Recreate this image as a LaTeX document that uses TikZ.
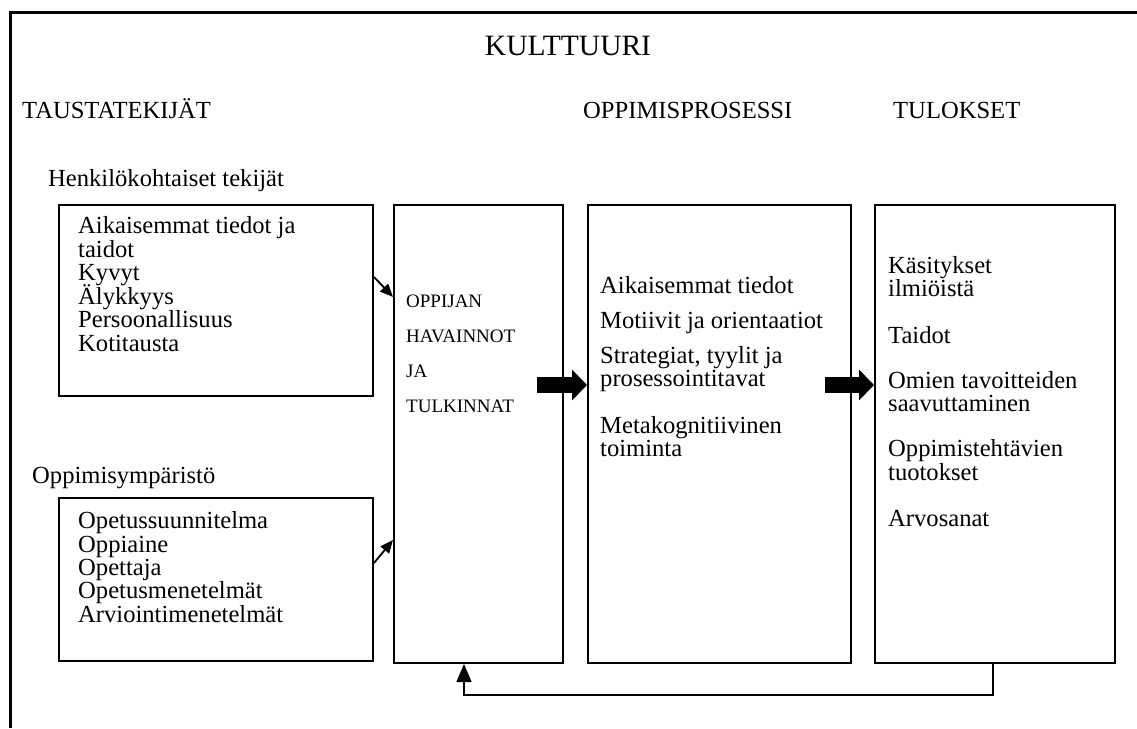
\documentclass[tikz,border=0pt]{standalone}
\usepackage{fontspec}
\setmainfont{Liberation Serif}
\usetikzlibrary{arrows.meta,calc}
\begin{document}
\begin{tikzpicture}[x=1pt,y=-1pt,
  box/.style={draw,line width=2pt,anchor=north west,inner sep=0,rectangle},
  txt/.style={anchor=base west,inner sep=0,font=\fontsize{24.6}{26}\selectfont},
  small/.style={anchor=base west,inner sep=0,font=\fontsize{19}{22}\selectfont},
  big/.style={anchor=base,inner sep=0,font=\fontsize{29.5}{32}\selectfont},
  thin/.style={line width=1.8pt,-{Triangle[length=13pt,width=11pt]}},
  blk/.style={line width=16pt,-{Triangle[length=15pt,width=30pt]}},
  fb/.style={line width=1.5pt,-{Triangle[length=18pt,width=15pt]}}]
\useasboundingbox (0,0) rectangle (1137,728);
\draw[line width=3pt] (10,728) -- (10,12) -- (1140,12);
% titles
\node[big] (kult) at (568,55) {KULTTUURI};
\node[txt] (taus) at (22,118) {TAUSTATEKIJÄT};
\node[txt] (oppi) at (583,118) {OPPIMISPROSESSI};
\node[txt] (tulo) at (893,118) {TULOKSET};
\node[txt] (henk) at (48,186) {Henkilökohtaiset tekijät};
\node[txt] (ymp) at (32,483) {Oppimisympäristö};
% boxes
\node[box,minimum width=314,minimum height=191] (b1) at (58,204) {};
\node[box,minimum width=314,minimum height=163] (b2) at (58,497) {};
\node[box,minimum width=169,minimum height=458] (b3) at (393,204) {};
\node[box,minimum width=263,minimum height=458] (b4) at (587,204) {};
\node[box,minimum width=240,minimum height=458] (b5) at (874,204) {};
% box1 text
\node[txt] (t11) at (78,233) {Aikaisemmat tiedot ja};
\node[txt] (t12) at (78,257) {taidot};
\node[txt] (t13) at (78,280) {Kyvyt};
\node[txt] (t14) at (78,304) {Älykkyys};
\node[txt] (t15) at (78,327) {Persoonallisuus};
\node[txt] (t16) at (78,351) {Kotitausta};
% box2 text
\node[txt] (t21) at (78,528) {Opetussuunnitelma};
\node[txt] (t22) at (78,552) {Oppiaine};
\node[txt] (t23) at (78,575) {Opettaja};
\node[txt] (t24) at (78,598) {Opetusmenetelmät};
\node[txt] (t25) at (78,622) {Arviointimenetelmät};
% box3 text
\node[small] (t31) at (406,307) {OPPIJAN};
\node[small] (t32) at (406,342) {HAVAINNOT};
\node[small] (t33) at (406,377) {JA};
\node[small] (t34) at (406,412) {TULKINNAT};
% box4 text
\node[txt] (t41) at (600,293) {Aikaisemmat tiedot};
\node[txt] (t42) at (600,328) {Motiivit ja orientaatiot};
\node[txt] (t43) at (600,363) {Strategiat, tyylit ja};
\node[txt] (t44) at (600,386) {prosessointitavat};
\node[txt] (t45) at (600,433) {Metakognitiivinen};
\node[txt] (t46) at (600,456) {toiminta};
% box5 text
\node[txt] (t51) at (888,273) {Käsitykset};
\node[txt] (t52) at (888,296) {ilmiöistä};
\node[txt] (t53) at (888,343) {Taidot};
\node[txt] (t54) at (888,388) {Omien tavoitteiden};
\node[txt] (t55) at (888,411) {saavuttaminen};
\node[txt] (t56) at (888,456) {Oppimistehtävien};
\node[txt] (t57) at (888,480) {tuotokset};
\node[txt] (t58) at (888,526) {Arvosanat};
% small arrows
\coordinate (s1) at ($(b1.north east)+(0,73)$);
\coordinate (e1) at ($(b3.north west)+(0,93)$);
\coordinate (s2) at ($(b2.north east)+(0,66)$);
\coordinate (e2) at ($(b3.north west)+(0,336)$);
\draw[thin] (s1) -- (e1);
\draw[thin] (s2) -- (e2);
% block arrows
\coordinate (a1) at (537,385);
\coordinate (a2) at (825,385);
\draw[blk] (a1) -- (a1 -| b4.west);
\draw[blk] (a2) -- (a2 -| b5.west);
% feedback
\coordinate (fbc) at (464,695);
\draw[fb] ($(b5.south)+(-2,0)$) |- (fbc) -- (fbc |- b3.south);
\end{tikzpicture}
\end{document}
